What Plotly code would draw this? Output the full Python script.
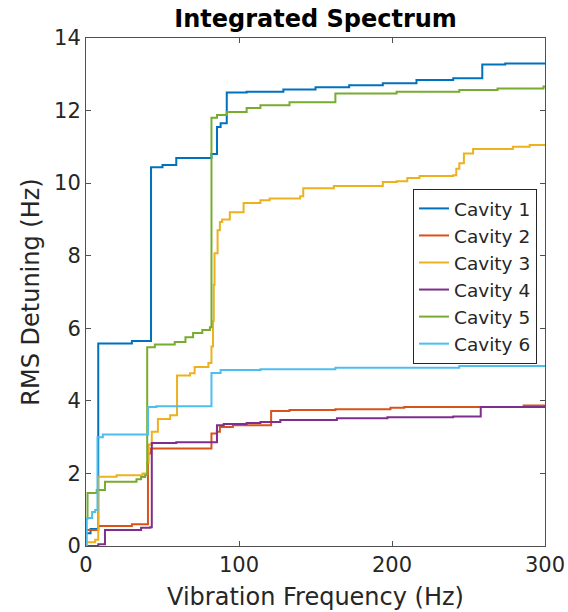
import plotly.graph_objects as go

names = ["Cavity 1", "Cavity 2", "Cavity 3", "Cavity 4", "Cavity 5", "Cavity 6"]
colors = ["#0072BD", "#D95319", "#EDB120", "#7E2F8E", "#77AC30", "#4DBEEE"]

f1 = [0, 3, 8, 30, 42.5, 50, 59, 82, 85.6, 88, 92, 105, 129, 150, 172, 194, 216, 240, 259, 274, 300]
v1 = [0.35, 0.47, 5.58, 5.65, 10.44, 10.5, 10.69, 10.8, 11.55, 11.65, 12.5, 12.52, 12.58, 12.64, 12.7, 12.75, 12.84, 12.89, 13.27, 13.3, 13.3]

f2 = [0, 8, 30, 40.5, 42.5, 82, 85.5, 87.5, 96, 121, 133, 163, 199, 208, 286, 300]
v2 = [0.44, 0.55, 0.6, 2.55, 2.69, 3.1, 3.15, 3.28, 3.33, 3.72, 3.75, 3.77, 3.81, 3.83, 3.87, 3.87]

f3 = [0, 6, 8, 20, 37, 40, 41, 43, 47, 55, 59.5, 68, 71, 80, 82, 83, 83.5, 84, 86, 87.5, 89, 94, 103,
      114, 120, 140, 142, 162, 194, 203, 210, 218, 240, 242, 244, 247, 253, 279, 290, 300]
v3 = [0.1, 0.17, 1.91, 1.95, 2.0, 2.3, 2.8, 3.15, 3.5, 3.6, 4.7, 4.76, 4.93, 5.04, 5.5, 6.2, 7.2, 8.07, 8.7, 8.93, 9.0, 9.2, 9.45,
      9.53, 9.58, 9.64, 9.86, 9.92, 10.03, 10.05, 10.14, 10.2, 10.22, 10.4, 10.55, 10.82, 10.94, 11.0, 11.05, 11.05]

f4 = [0, 8, 12.4, 36, 42, 43, 59, 85.6, 90, 105, 114, 127, 164, 197, 240, 258, 300]
v4 = [0.0, 0.05, 0.44, 0.5, 0.52, 2.84, 2.86, 3.33, 3.36, 3.39, 3.42, 3.47, 3.52, 3.55, 3.57, 3.83, 3.85]

f5 = [0, 1, 7, 12.4, 33, 36, 38.6, 40, 45, 58, 65, 70, 76, 81, 82, 85.6, 92, 105, 114, 133, 163, 203, 244, 269, 299, 300]
v5 = [0.75, 1.46, 1.54, 1.77, 1.84, 1.9, 1.95, 5.48, 5.55, 5.62, 5.75, 5.87, 5.95, 6.03, 11.8, 11.88, 11.96, 12.07, 12.15, 12.23, 12.47, 12.52, 12.57, 12.61, 12.66, 12.66]

f6 = [0, 0.5, 4, 6, 7.5, 11, 40.5, 46, 82, 88, 114, 163, 244, 300]
v6 = [0.0, 0.77, 0.94, 0.99, 3.0, 3.07, 3.83, 3.85, 4.77, 4.85, 4.87, 4.91, 4.96, 4.96]

freqs = [f1, f2, f3, f4, f5, f6]
vals = [v1, v2, v3, v4, v5, v6]

x_ticks = [0, 100, 200, 300]
y_ticks = [0, 2, 4, 6, 8, 10, 12, 14]

fig = go.Figure()
for n, c, f, v in zip(names, colors, freqs, vals):
    fig.add_trace(go.Scatter(x=f, y=v, mode="lines", name=n, line=dict(color=c, width=2, shape="hv")))

axis_common = dict(showline=True, linecolor="#505050", linewidth=1, mirror="ticks", ticks="inside",
                   ticklen=5, tickcolor="#505050", showgrid=False, zeroline=False, automargin=False,
                   tickfont=dict(size=21, color="#262626"))

fig.update_layout(
    template="none",
    width=568, height=612,
    margin=dict(l=86, r=23, t=38, b=66, pad=0),
    paper_bgcolor="white", plot_bgcolor="white",
    font=dict(family="DejaVu Sans", color="#262626"),
    title=dict(text="<b>Integrated Spectrum</b>", x=0.5555, xanchor="center", y=0.969, yanchor="middle",
               font=dict(size=24, color="black")),
    xaxis=dict(range=[0, 300], tickvals=x_ticks, title=dict(text="Vibration Frequency (Hz)", font=dict(size=24), standoff=11), **axis_common),
    yaxis=dict(range=[0, 14], tickvals=y_ticks, title=dict(text="RMS Detuning (Hz)", font=dict(size=24), standoff=7), **axis_common),
    legend=dict(x=0.9826, xanchor="right", y=0.703, yanchor="top", bgcolor="white",
                bordercolor="#262626", borderwidth=1, font=dict(size=18.5, color="#262626"),
                tracegroupgap=0),
    showlegend=True,
)

fig.write_html("out.html")
